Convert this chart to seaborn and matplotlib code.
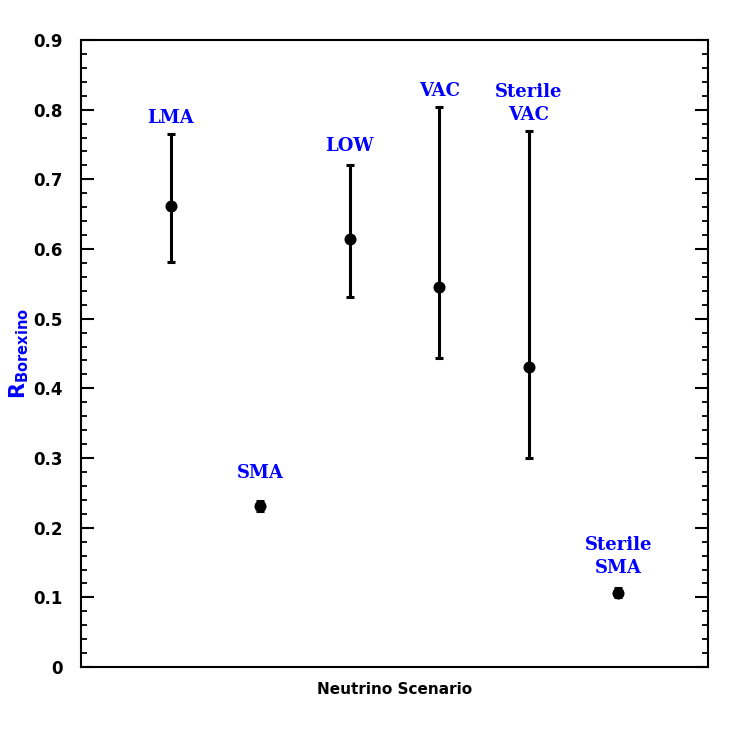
import pandas as pd
import matplotlib
matplotlib.use("Agg")
import matplotlib.pyplot as plt
from matplotlib.ticker import MultipleLocator
import seaborn as sns

# Borexino rate for each neutrino scenario
scenarios = ["LMA", "SMA", "LOW", "VAC", "Sterile\nVAC", "Sterile\nSMA"]
position = [1, 2, 3, 4, 5, 6]
rate = [0.661, 0.231, 0.615, 0.546, 0.430, 0.107]
rate_low = [0.581, 0.224, 0.531, 0.443, 0.300, 0.101]
rate_high = [0.765, 0.238, 0.721, 0.804, 0.770, 0.114]
y_ticks = [0, 0.1, 0.2, 0.3, 0.4, 0.5, 0.6, 0.7, 0.8, 0.9]
y_labels = ["0", "0.1", "0.2", "0.3", "0.4", "0.5", "0.6", "0.7", "0.8", "0.9"]

df = pd.DataFrame({"scenario": scenarios, "x": position, "rate": rate,
                   "lo": rate_low, "hi": rate_high})

sns.set_style("ticks")
plt.rcParams["font.family"] = ["DejaVu Sans"]
plt.rcParams["mathtext.fontset"] = "dejavusans"

fig = plt.figure(figsize=(7.47, 7.47), dpi=100)
ax = fig.add_axes([0.1084, 0.107, 0.8395, 0.8395])

# error bars
ax.errorbar(df["x"], df["rate"],
            yerr=[df["rate"] - df["lo"], df["hi"] - df["rate"]],
            fmt="none", ecolor="black", elinewidth=2.2, capsize=3, capthick=2.2)
sns.scatterplot(data=df, x="x", y="rate", color="black", s=75,
                edgecolor="black", linewidth=0, ax=ax, zorder=3)

# scenario names above each bar (label gap in points)
gap = {"SMA": 14, "Sterile\nSMA": 8, "LOW": 7}
for _, row in df.iterrows():
    ax.annotate(row["scenario"], (row["x"], row["hi"]),
                xytext=(0, gap.get(row["scenario"], 5)),
                textcoords="offset points", ha="center", va="bottom",
                color="blue", fontsize=13, fontweight="bold",
                family="DejaVu Serif", linespacing=1.35)

ax.set_xlim(0, 7)
ax.set_xticks([])
ax.set_yticks(y_ticks)
ax.set_yticklabels(y_labels)
ax.yaxis.set_minor_locator(MultipleLocator(0.02))
ax.set_ylim(0, 0.9)
ax.tick_params(axis="y", which="major", direction="in", length=9.5, width=1.5,
               left=True, right=True, labelsize=12, pad=13,
               color="black", labelcolor="black")
ax.tick_params(axis="y", which="minor", direction="in", length=4.5, width=1.3,
               left=True, right=True, color="black")
for lab in ax.get_yticklabels():
    lab.set_fontweight("bold")
for sp in ax.spines.values():
    sp.set_visible(True)
    sp.set_linewidth(1.5)
    sp.set_color("black")

ax.set_xlabel("Neutrino Scenario", fontsize=11, fontweight="bold",
              labelpad=11, color="black")
ax.set_ylabel(r"$\mathbf{R}_{\mathbf{Borexino}}$", fontsize=15, color="blue",
              labelpad=2)

fig.savefig("out.png", dpi=100)
